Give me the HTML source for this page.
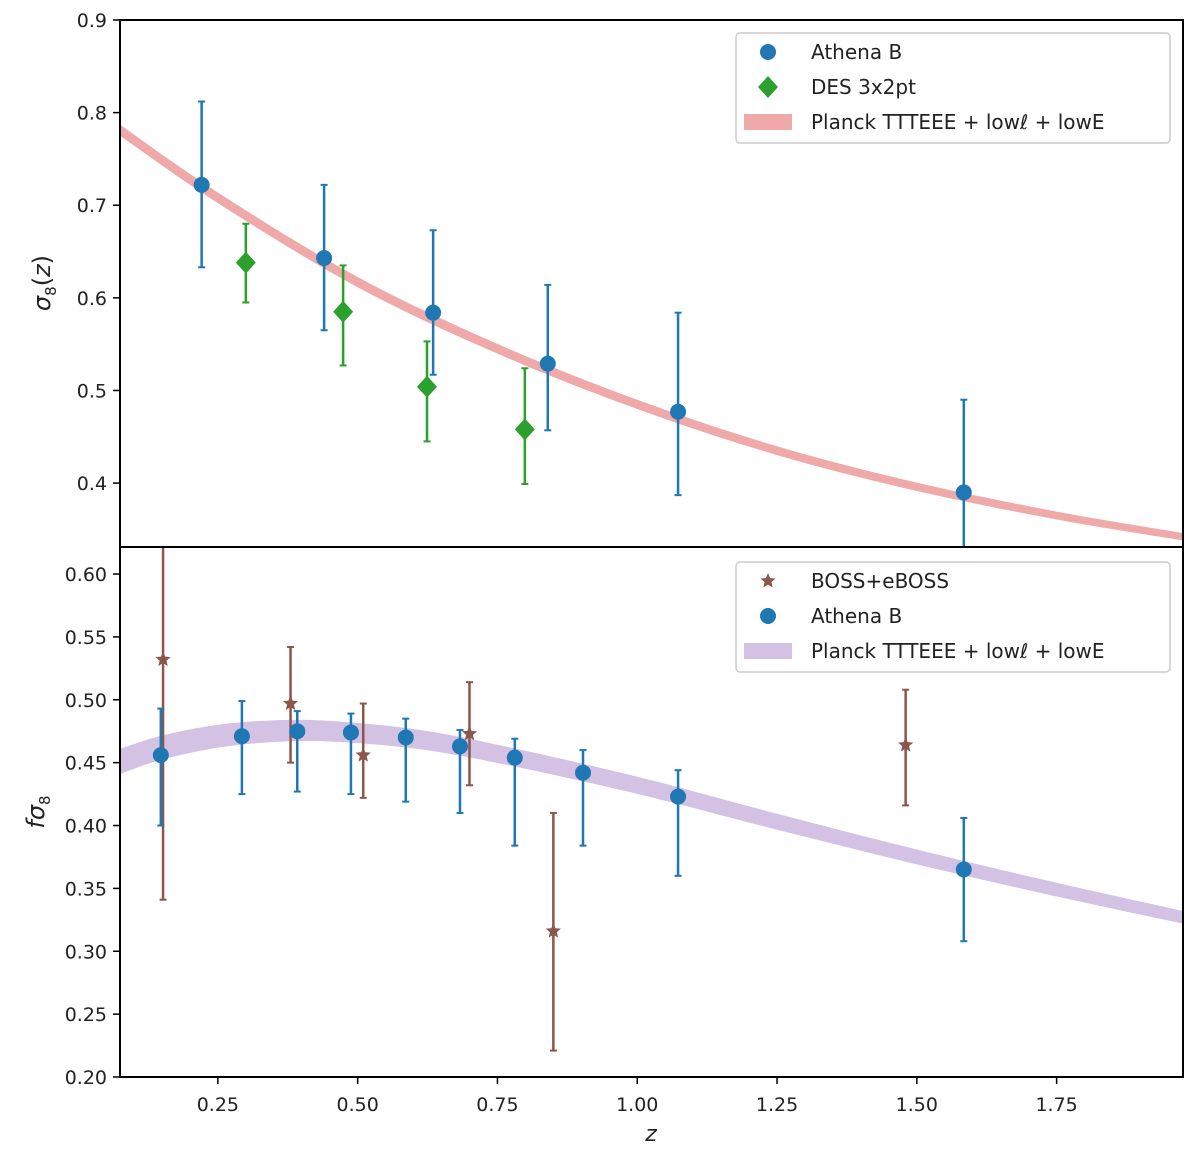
<!DOCTYPE html>
<html><head><meta charset="utf-8"><style>
body{margin:0;background:#fff}
svg{display:block;font-family:"DejaVu Sans","Liberation Sans",sans-serif}
</style></head><body>
<svg id="chart" width="1200" height="1152"></svg>
<script>
// ---- data: top panel
const topAthenaZ=[0.221,0.440,0.635,0.840,1.073,1.584];
const topAthenaV=[0.722,0.643,0.584,0.529,0.477,0.390];
const topAthenaHi=[0.812,0.722,0.673,0.614,0.584,0.490];
const topAthenaLo=[0.633,0.565,0.517,0.457,0.387,0.290];
const desZ=[0.300,0.474,0.624,0.799];
const desV=[0.638,0.585,0.504,0.458];
const desHi=[0.680,0.635,0.553,0.524];
const desLo=[0.595,0.527,0.445,0.399];
const planckTopZ=[0.075,0.25,0.5,0.75,1.0,1.25,1.5,1.75,1.976];
const planckTopV=[0.781,0.708,0.617,0.545,0.485,0.435,0.396,0.365,0.342];
const topTicks=[0.4,0.5,0.6,0.7,0.8,0.9];
// ---- data: bottom panel
const botAthenaZ=[0.148,0.293,0.392,0.488,0.586,0.683,0.781,0.903,1.073,1.584];
const botAthenaV=[0.456,0.471,0.475,0.474,0.470,0.463,0.454,0.442,0.423,0.365];
const botAthenaHi=[0.493,0.499,0.491,0.489,0.485,0.476,0.469,0.460,0.444,0.406];
const botAthenaLo=[0.400,0.425,0.427,0.425,0.419,0.410,0.384,0.384,0.360,0.308];
const bossZ=[0.152,0.380,0.510,0.700,0.850,1.480];
const bossV=[0.532,0.497,0.456,0.473,0.316,0.464];
const bossHi=[0.660,0.542,0.497,0.514,0.410,0.508];
const bossLo=[0.341,0.450,0.422,0.432,0.221,0.416];
const planckBotZ=[0.075,0.15,0.25,0.35,0.45,0.6,0.75,1.0,1.25,1.5,1.75,1.976];
const planckBotV=[0.451,0.462,0.471,0.475,0.475,0.469,0.457,0.432,0.403,0.375,0.349,0.327];
const botTicks=[0.20,0.25,0.30,0.35,0.40,0.45,0.50,0.55,0.60];
const xTicks=[0.25,0.5,0.75,1.0,1.25,1.5,1.75];

const NS="http://www.w3.org/2000/svg";
const svg=document.getElementById('chart');
function mk(tag,attrs,parent){const e=document.createElementNS(NS,tag);for(const k in attrs)e.setAttribute(k,attrs[k]);(parent||svg).appendChild(e);return e;}
const L=120,R=1183;
const xs=z=>L+(z-0.075)/(1.976-0.075)*(R-L);
const P1={t:20,b:547,min:0.331,max:0.9};
const P2={t:547,b:1077,min:0.20,max:0.6215};
const ys=(p,v)=>p.b-(v-p.min)/(p.max-p.min)*(p.b-p.t);

mk('defs',{}).innerHTML='<clipPath id="c1"><rect x="120" y="20" width="1063" height="527"/></clipPath><clipPath id="c2"><rect x="120" y="547" width="1063" height="530"/></clipPath>';

// Catmull-Rom sampling through the data points (smooth curve)
function smooth(zs,vs){const out=[];const n=zs.length;
  for(let i=0;i<n-1;i++){const p0=i?i-1:0,p3=i+2<n?i+2:n-1;
    for(let s=0;s<10;s++){const t=s/10,t2=t*t,t3=t2*t;
      const f=(a,b,c,d)=>0.5*(2*b+(-a+c)*t+(2*a-5*b+4*c-d)*t2+(-a+3*b-3*c+d)*t3);
      out.push([f(zs[p0],zs[i],zs[i+1],zs[p3]),f(vs[p0],vs[i],vs[i+1],vs[p3])]);}}
  out.push([zs[n-1],vs[n-1]]);return out;}
function band(p,zs,vs,hw0,hw1,fill,clip,name){
  const pts=smooth(zs,vs);let up=[],dn=[];
  pts.forEach((q,i)=>{const hw=hw0+(hw1-hw0)*i/(pts.length-1);up.push(xs(q[0])+','+ys(p,q[1]+hw));dn.unshift(xs(q[0])+','+ys(p,q[1]-hw));});
  const e=mk('polygon',{points:up.concat(dn).join(' '),fill:fill,'clip-path':clip});
  
  
}
function errs(p,zs,vs,hi,lo,color,marker,clip,name){
  const g=mk('g',{'clip-path':clip});
  
  
  zs.forEach((z,i)=>{
    const x=xs(z),y1=ys(p,hi[i]),y2=ys(p,lo[i]),y=ys(p,vs[i]);
    mk('line',{x1:x,x2:x,y1:y1,y2:y2,stroke:color,'stroke-width':2.5},g);
    mk('line',{x1:x-3.5,x2:x+3.5,y1:y1,y2:y1,stroke:color,'stroke-width':2},g);
    mk('line',{x1:x-3.5,x2:x+3.5,y1:y2,y2:y2,stroke:color,'stroke-width':2},g);
    let m;
    if(marker==='o')m=mk('circle',{cx:x,cy:y,r:8,fill:color},g);
    else if(marker==='d')m=mk('polygon',{points:`${x},${y-11} ${x+10},${y} ${x},${y+11} ${x-10},${y}`,fill:color},g);
    else m=star(x,y,8,color,g);
    
    
  });
}
function star(x,y,r,color,g){let pts=[];for(let k=0;k<10;k++){const a=-Math.PI/2+k*Math.PI/5,rr=k%2?r*0.45:r;pts.push((x+rr*Math.cos(a))+','+(y+rr*Math.sin(a)));}return mk('polygon',{points:pts.join(' '),fill:color},g);}

band(P1,planckTopZ,planckTopV,0.006,0.004,'rgba(214,39,40,0.4)','url(#c1)','planck-band-sigma8');
errs(P1,desZ,desV,desHi,desLo,'#2ca02c','d','url(#c1)','des-3x2pt');
errs(P1,topAthenaZ,topAthenaV,topAthenaHi,topAthenaLo,'#1f77b4','o','url(#c1)','athena-b-sigma8');
band(P2,planckBotZ,planckBotV,0.010,0.005,'rgba(148,103,189,0.4)','url(#c2)','planck-band-fsigma8');
errs(P2,bossZ,bossV,bossHi,bossLo,'#8c564b','s','url(#c2)','boss-eboss');
errs(P2,botAthenaZ,botAthenaV,botAthenaHi,botAthenaLo,'#1f77b4','o','url(#c2)','athena-b-fsigma8');

[P1,P2].forEach((p,i)=>{const r=mk('rect',{x:L,y:p.t,width:R-L,height:p.b-p.t,fill:'none',stroke:'#000','stroke-width':2});
});
function yt(p,ticks,fmt,name){ticks.forEach(v=>{const y=ys(p,v);mk('line',{x1:L-7,x2:L,y1:y,y2:y,stroke:'#000','stroke-width':1.5});
const t=mk('text',{x:L-13,y:y+7,'text-anchor':'end','font-size':19,fill:'#222'});t.textContent=v.toFixed(fmt);
});}
yt(P1,topTicks,1,'top-y-tick-label');
yt(P2,botTicks,2,'bottom-y-tick-label');
xTicks.forEach(z=>{const x=xs(z);mk('line',{x1:x,x2:x,y1:1077,y2:1084,stroke:'#000','stroke-width':1.5});
const t=mk('text',{x:x,y:1111,'text-anchor':'middle','font-size':19,fill:'#222'});t.textContent=z.toFixed(2);
});

function legend(y0,items,name){const g=mk('g',{});
mk('rect',{x:736,y:y0,width:434,height:110,rx:4,fill:'#fff','fill-opacity':0.85,stroke:'#ccc','stroke-width':1.5},g);
items.forEach((it,i)=>{const cy=y0+19+i*35,cx=768;
if(it.m==='o')mk('circle',{cx:cx,cy:cy,r:8,fill:it.c},g);
else if(it.m==='d')mk('polygon',{points:`${cx},${cy-11} ${cx+10},${cy} ${cx},${cy+11} ${cx-10},${cy}`,fill:it.c},g);
else if(it.m==='s')star(cx,cy,8,it.c,g);
else mk('rect',{x:744,y:cy-8,width:48,height:16,fill:it.c},g);
const t=mk('text',{x:811,y:cy+7,'font-size':20,fill:'#222'},g);t.innerHTML=it.t;});}
legend(33,[{m:'o',c:'#1f77b4',t:'Athena B'},{m:'d',c:'#2ca02c',t:'DES 3x2pt'},{m:'b',c:'rgba(214,39,40,0.4)',t:'Planck TTTEEE + low<tspan font-style="italic">ℓ</tspan> + lowE'}],'top-legend');
legend(562,[{m:'s',c:'#8c564b',t:'BOSS+eBOSS'},{m:'o',c:'#1f77b4',t:'Athena B'},{m:'b',c:'rgba(148,103,189,0.4)',t:'Planck TTTEEE + low<tspan font-style="italic">ℓ</tspan> + lowE'}],'bottom-legend');

let t=mk('text',{x:0,y:0,'font-size':24,fill:'#222',transform:'translate(50,283) rotate(-90)','text-anchor':'middle'});
t.innerHTML='<tspan font-style="italic">σ</tspan><tspan font-size="15" dy="6">8</tspan><tspan dy="-6">(</tspan><tspan font-style="italic">z</tspan>)';

t=mk('text',{x:0,y:0,'font-size':24,fill:'#222',transform:'translate(44,812) rotate(-90)','text-anchor':'middle'});
t.innerHTML='<tspan font-style="italic">fσ</tspan><tspan font-size="15" dy="6">8</tspan>';

t=mk('text',{x:651,y:1141,'font-size':22,'font-style':'italic',fill:'#222','text-anchor':'middle'});t.textContent='z';

</script>
</body></html>
